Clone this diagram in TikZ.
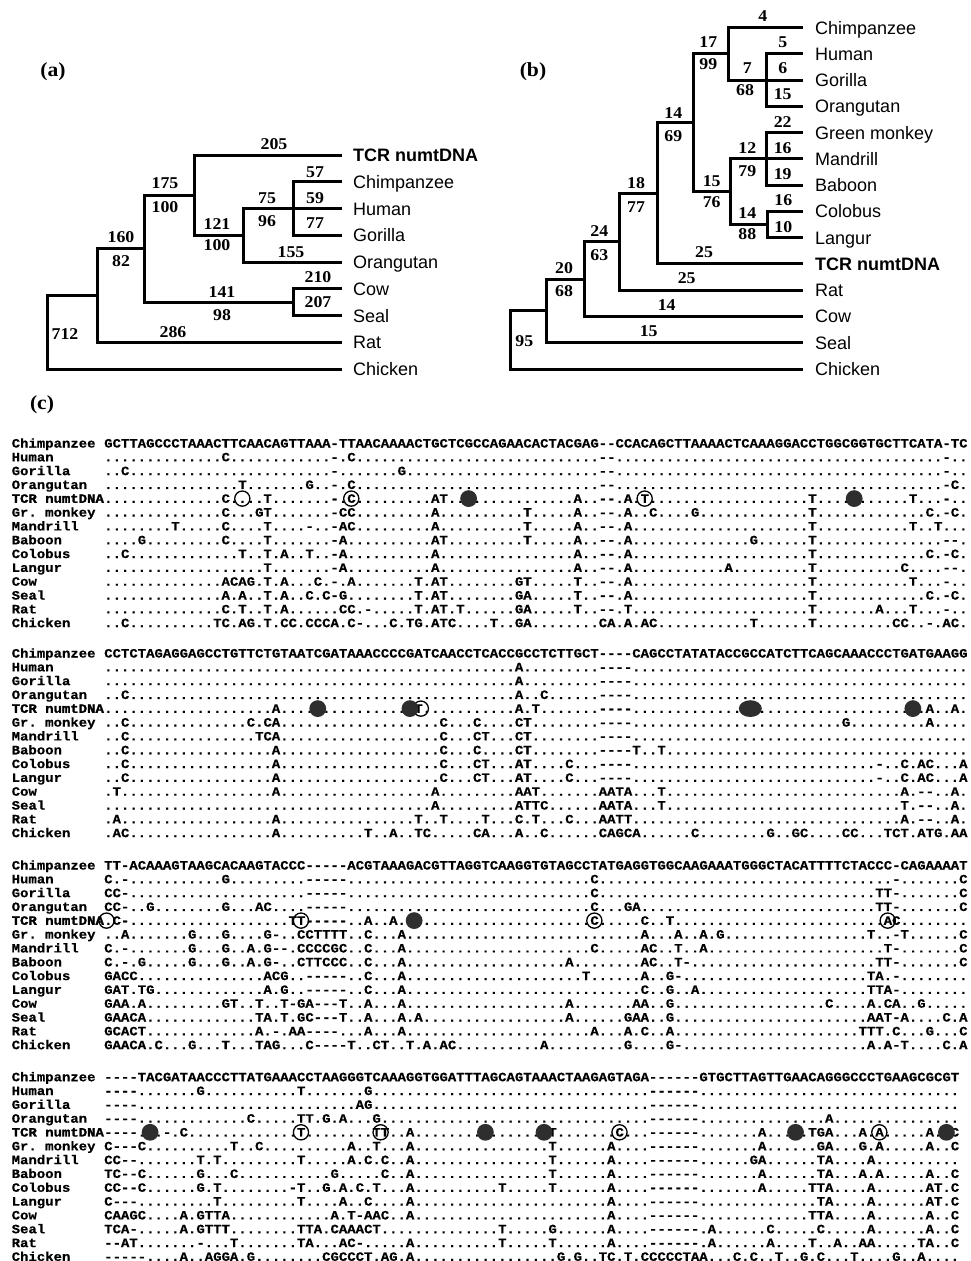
\documentclass[tikz,border=0pt]{standalone}
\usepackage{fontspec}
\setsansfont{Liberation Sans}
\setmonofont{Liberation Mono}[FakeStretch=1.1,FakeBold=0.6]
\newfontfamily\tcrfont{Liberation Mono}[FakeStretch=1.1,FakeBold=1.6]
\newfontfamily\numfont{Liberation Serif}[FakeStretch=1.08]

% n dots in a row
\newcommand\dd[1]{\ifnum#1>0 .\expandafter\dd\expandafter{\the\numexpr#1-1\relax}\fi}
% one row of the alignment: row, name, residues
\newcommand\seqline[3]{%
  \node[seqlab] (lab\blk-#1) at (11.5,{\blky+13.82*#1}) {#2};
  \node[seqrow] (seq\blk-#1) at (104,{\blky+13.82*#1}) {#3};}
% marks on the TCR row: column, y
\newcommand\ringat[2]{\draw[ring] ({108.19+8.382*#1},#2) circle[radius=7.6pt];}
\newcommand\blotat[2]{\fill[blot] ({108.19+8.382*#1},#2) circle[radius=8.4pt];}

\tikzset{
  branch/.style={line width=3pt},
  num/.style={font=\numfont\bfseries\fontsize{16.5}{17}\selectfont, inner sep=0pt},
  taxon/.style={anchor=west, inner xsep=11pt, inner ysep=0pt, text height=13pt, text depth=0pt,
    font=\sffamily\fontsize{18}{20}\selectfont},
  panel/.style={font=\numfont\bfseries\fontsize{20}{21}\selectfont, inner sep=0pt},
  seqlab/.style={anchor=base west, inner sep=0pt, font=\ttfamily\bfseries\fontsize{12.7}{13}\selectfont},
  seqrow/.style={seqlab},
  ring/.style={line width=1.3pt},
  blot/.style={fill=black!82},
}

\begin{document}
\begin{tikzpicture}[x=1pt,y=-1pt]
\useasboundingbox (0,0) rectangle (971,1261);

% panel labels
\node[panel] (pa) at (53,72) {(a)};
\node[panel] (pb) at (533,72) {(b)};
\node[panel] (pc) at (42,405) {(c)};

% tree (a)
\node[taxon] (aTCR) at (342,155) {\textbf{TCR numtDNA}};
\node[taxon] (aChimp) at (342,181.75) {Chimpanzee};
\node[taxon] (aHuman) at (342,208.5) {Human};
\node[taxon] (aGorilla) at (342,235.25) {Gorilla};
\node[taxon] (aOrang) at (342,262) {Orangutan};
\node[taxon] (aCow) at (342,288.75) {Cow};
\node[taxon] (aSeal) at (342,315.5) {Seal};
\node[taxon] (aRat) at (342,342.25) {Rat};
\node[taxon] (aChicken) at (342,369) {Chicken};
\coordinate (a0) at (47,332.2);
\coordinate (a1) at (97,295.4);
\coordinate (a2) at (144,248.6);
\coordinate (a3) at (194,195.1);
\coordinate (a4) at (243,235.25);
\coordinate (a5) at (293,208.5);
\coordinate (acs) at (293,302.1);
\draw[branch] (a0) |- (a1) (a0) |- (aChicken.west);
\draw[branch] (a1) |- (a2) (a1) |- (aRat.west);
\draw[branch] (a2) |- (a3) (a2) |- (acs);
\draw[branch] (a3) |- (aTCR.west) (a3) |- (a4);
\draw[branch] (a4) |- (a5) (a4) |- (aOrang.west);
\draw[branch] (a5) |- (aChimp.west) (a5) |- (aHuman.west) (a5) |- (aGorilla.west);
\draw[branch] (acs) |- (aCow.west) (acs) |- (aSeal.west);
\node[num] at (274,144) {205};
\node[num] at (165,183) {175};
\node[num] at (165,207) {100};
\node[num] at (315,172) {57};
\node[num] at (315,198) {59};
\node[num] at (315,223) {77};
\node[num] at (267,198) {75};
\node[num] at (267,221) {96};
\node[num] at (217,224) {121};
\node[num] at (217,245) {100};
\node[num] at (291,252) {155};
\node[num] at (121,237) {160};
\node[num] at (121,261) {82};
\node[num] at (318,277) {210};
\node[num] at (318,302) {207};
\node[num] at (222,292) {141};
\node[num] at (222,315) {98};
\node[num] at (173,332) {286};
\node[num] at (65,334) {712};

% tree (b)
\tikzset{taxon/.append style={inner xsep=12pt}}
\node[taxon] (bChimp) at (803,27.5) {Chimpanzee};
\node[taxon] (bHuman) at (803,53.77) {Human};
\node[taxon] (bGorilla) at (803,80.04) {Gorilla};
\node[taxon] (bOrang) at (803,106.31) {Orangutan};
\node[taxon] (bGreen) at (803,132.58) {Green monkey};
\node[taxon] (bMandrill) at (803,158.85) {Mandrill};
\node[taxon] (bBaboon) at (803,185.12) {Baboon};
\node[taxon] (bColobus) at (803,211.39) {Colobus};
\node[taxon] (bLangur) at (803,237.66) {Langur};
\node[taxon] (bTCR) at (803,263.93) {\textbf{TCR numtDNA}};
\node[taxon] (bRat) at (803,290.2) {Rat};
\node[taxon] (bCow) at (803,316.47) {Cow};
\node[taxon] (bSeal) at (803,342.74) {Seal};
\node[taxon] (bChicken) at (803,369.01) {Chicken};
\coordinate (b0) at (510.7,340);
\coordinate (b1) at (546,310.9);
\coordinate (b2) at (584.3,279.1);
\coordinate (b3) at (619.3,241.8);
\coordinate (b4) at (657.7,193.3);
\coordinate (b5) at (693.3,122.7);
\coordinate (b6) at (728.3,53.77);
\coordinate (b7) at (766.7,80.04);
\coordinate (b8) at (730,191.7);
\coordinate (b9) at (766.7,158.85);
\coordinate (b10) at (767.3,224.5);
\draw[branch] (b0) |- (b1) (b0) |- (bChicken.west);
\draw[branch] (b1) |- (b2) (b1) |- (bSeal.west);
\draw[branch] (b2) |- (b3) (b2) |- (bCow.west);
\draw[branch] (b3) |- (b4) (b3) |- (bRat.west);
\draw[branch] (b4) |- (b5) (b4) |- (bTCR.west);
\draw[branch] (b5) |- (b6) (b5) |- (b8);
\draw[branch] (b6) |- (bChimp.west) (b6) |- (b7);
\draw[branch] (b7) |- (bHuman.west) (b7) |- (bGorilla.west) (b7) |- (bOrang.west);
\draw[branch] (b8) |- (b9) (b8) |- (b10);
\draw[branch] (b9) |- (bGreen.west) (b9) |- (bMandrill.west) (b9) |- (bBaboon.west);
\draw[branch] (b10) |- (bColobus.west) (b10) |- (bLangur.west);
\node[num] at (762.7,16) {4};
\node[num] at (708.3,41.7) {17};
\node[num] at (708.3,64.3) {99};
\node[num] at (782.7,41.7) {5};
\node[num] at (782.7,68.3) {6};
\node[num] at (782.7,94.3) {15};
\node[num] at (747.3,68.3) {7};
\node[num] at (745,90) {68};
\node[num] at (673.3,113.3) {14};
\node[num] at (673.3,136) {69};
\node[num] at (782.7,121.7) {22};
\node[num] at (782.7,148.3) {16};
\node[num] at (782.7,174) {19};
\node[num] at (747.3,148.3) {12};
\node[num] at (747.3,170.7) {79};
\node[num] at (711.7,181) {15};
\node[num] at (711.7,202.3) {76};
\node[num] at (783.3,200) {16};
\node[num] at (783.3,226.7) {10};
\node[num] at (747.3,212.7) {14};
\node[num] at (747.3,234.3) {88};
\node[num] at (636,182.7) {18};
\node[num] at (636,206.7) {77};
\node[num] at (704,252.3) {25};
\node[num] at (599.3,230.7) {24};
\node[num] at (599.3,255) {63};
\node[num] at (686.7,278.3) {25};
\node[num] at (564,268.3) {20};
\node[num] at (564,291) {68};
\node[num] at (666.7,305) {14};
\node[num] at (648.7,331) {15};
\node[num] at (524.3,340.7) {95};

% alignment (c), block 1
\def\blk{1}\def\blky{447.5}
\seqline{0}{Chimpanzee}{GCTTAGCCCTAAACTTCAACAGTTAAA-TTAACAAAACTGCTCGCCAGAACACTACGAG--CCACAGCTTAAAACTCAAAGGACCTGGCGGTGCTTCATA-TC}
\seqline{1}{Human}{\dd{14}C\dd{12}-.C\dd{29}--\dd{39}-..}
\seqline{2}{Gorilla}{..C\dd{24}-\dd{7}G\dd{23}--\dd{39}-..}
\seqline{3}{Orangutan}{\dd{16}T\dd{7}G..-.C\dd{29}--\dd{39}-C.}
\seqline{4}{{\tcrfont TCR numtDNA}}{\dd{14}C\dd{4}T\dd{7}-.C\dd{9}AT\dd{15}A..--.A.T\dd{19}T\dd{11}T\dd{3}-..}
\seqline{5}{Gr. monkey}{\dd{14}C...GT\dd{7}-CC\dd{9}A\dd{10}T\dd{5}A..--.A..C\dd{4}G\dd{13}T\dd{13}C.-C.}
\seqline{6}{Mandrill}{\dd{8}T.....C....T....-..-AC\dd{9}A\dd{10}T\dd{5}A..--.A\dd{21}T\dd{11}T..T...}
\seqline{7}{Baboon}{....G\dd{9}C....T\dd{7}-A\dd{10}AT\dd{9}T\dd{5}A..--.A\dd{14}G\dd{6}T\dd{15}--.}
\seqline{8}{Colobus}{..C\dd{13}T..T.A..T..-A\dd{10}A\dd{16}A..--.A\dd{21}T\dd{13}C.-C.}
\seqline{9}{Langur}{\dd{19}T\dd{7}-A\dd{10}A\dd{16}A..--.A\dd{11}A\dd{9}T\dd{10}C....--.}
\seqline{10}{Cow}{\dd{14}ACAG.T.A...C.-.A\dd{7}T.AT\dd{8}GT\dd{5}T..--.A\dd{21}T\dd{11}T...-..}
\seqline{11}{Seal}{\dd{14}A.A..T.A..C.C-G\dd{8}T.AT\dd{8}GA\dd{5}T..--.A\dd{21}T\dd{13}C.-C.}
\seqline{12}{Rat}{\dd{14}C.T..T.A\dd{6}CC.-\dd{5}T.AT.T\dd{6}GA\dd{5}T..--.T\dd{21}T\dd{7}A...T...-..}
\seqline{13}{Chicken}{..C\dd{10}TC.AG.T.CC.CCCA.C-...C.TG.ATC\dd{4}T..GA\dd{8}CA.A.AC\dd{11}T\dd{6}T\dd{9}CC..-.AC.}
\foreach \c in {16,29,64} {\ringat{\c}{498.6}}
\foreach \c in {43,89} {\blotat{\c}{498.6}}

% block 2
\def\blk{2}\def\blky{657.5}
\seqline{0}{Chimpanzee}{CCTCTAGAGGAGCCTGTTCTGTAATCGATAAACCCCGATCAACCTCACCGCCTCTTGCT----CAGCCTATATACCGCCATCTTCAGCAAACCCTGATGAAGG}
\seqline{1}{Human}{\dd{49}A\dd{9}----\dd{40}}
\seqline{2}{Gorilla}{\dd{49}A\dd{9}----\dd{40}}
\seqline{3}{Orangutan}{..C\dd{46}A..C\dd{6}----\dd{40}}
\seqline{4}{{\tcrfont TCR numtDNA}}{\dd{20}A\dd{16}T\dd{11}A.T\dd{7}----\dd{35}A..A.}
\seqline{5}{Gr. monkey}{..C\dd{14}C.CA\dd{19}C...C....CT\dd{8}----\dd{25}G\dd{9}A....}
\seqline{6}{Mandrill}{..C\dd{15}TCA\dd{19}C...CT...CT\dd{8}----\dd{40}}
\seqline{7}{Baboon}{..C\dd{17}A\dd{19}C...C....CT\dd{8}----T..T\dd{36}}
\seqline{8}{Colobus}{..C\dd{17}A\dd{19}C...CT...AT....C...----\dd{29}-..C.AC...A}
\seqline{9}{Langur}{..C\dd{17}A\dd{19}C...CT...AT....C...----\dd{29}-..C.AC...A}
\seqline{10}{Cow}{.T\dd{18}A\dd{18}A\dd{9}AAT\dd{7}AATA...T\dd{28}A.--..A.}
\seqline{11}{Seal}{\dd{39}A\dd{9}ATTC\dd{6}AATA...T\dd{28}T.--..A.}
\seqline{12}{Rat}{.A\dd{18}A\dd{16}T..T....T...C.T...C...AATT\dd{32}A.--..A.}
\seqline{13}{Chicken}{.AC\dd{17}A\dd{10}T..A..TC.....CA...A..C......CAGCA\dd{6}C\dd{8}G..GC....CC...TCT.ATG.AA}
\ringat{37.3}{708.6}
\foreach \c in {25,36,96} {\blotat{\c}{708.6}}
\fill[blot] (750.3,708.6) ellipse[x radius=11.5pt, y radius=8.4pt];

% block 3
\def\blk{3}\def\blky{869.5}
\seqline{0}{Chimpanzee}{TT-ACAAAGTAAGCACAAGTACCC-----ACGTAAAGACGTTAGGTCAAGGTGTAGCCTATGAGGTGGCAAGAAATGGGCTACATTTTCTACCC-CAGAAAAT}
\seqline{1}{Human}{C.-\dd{11}G\dd{9}-----\dd{29}C\dd{35}-\dd{7}C}
\seqline{2}{Gorilla}{CC-\dd{21}-----\dd{29}C\dd{33}TT-\dd{7}C}
\seqline{3}{Orangutan}{CC-..G\dd{8}G...AC....-----\dd{29}C...GA\dd{28}TT-\dd{7}C}
\seqline{4}{{\tcrfont TCR numtDNA}}{.C-\dd{19}TT-----..A..A\dd{23}C.....C..T\dd{25}AC\dd{8}}
\seqline{5}{Gr. monkey}{..A\dd{7}G...G....G-..CCTTTT..C...A\dd{28}A...A..A.G\dd{17}T..-T\dd{6}C}
\seqline{6}{Mandrill}{C.-\dd{7}G...G..A.G--.CCCCGC..C...A\dd{22}C.....AC..T..A\dd{21}T-\dd{7}C}
\seqline{7}{Baboon}{C.-.G.....G...G..A.G-..CTTCCC..C...A\dd{19}A\dd{8}AC..T-\dd{22}TT-\dd{7}C}
\seqline{8}{Colobus}{GACC\dd{15}ACG..-----..C...A\dd{21}T......A..G-\dd{22}TA.-\dd{8}}
\seqline{9}{Langur}{GAT.TG\dd{13}A.G..-----..C...A\dd{28}C..G..A\dd{20}TTA-\dd{8}}
\seqline{10}{Cow}{GAA.A\dd{9}GT..T..T-GA---T..A...A\dd{19}A\dd{7}AA..G\dd{18}C....A.CA..G\dd{5}}
\seqline{11}{Seal}{GAACA\dd{13}TA.T.GC---T..A...A.A\dd{17}A\dd{6}GAA..G\dd{23}AAT-A....C.A}
\seqline{12}{Rat}{GCACT\dd{13}A.-.AA----...A...A\dd{22}A...A.C..A\dd{22}TTT.C...G...C}
\seqline{13}{Chicken}{GAACA.C...G...T...TAG...C----T..CT..T.A.AC\dd{10}A\dd{9}G....G-\dd{22}A.A-T....C.A}
\foreach \c in {-0.2,23,58,93} {\ringat{\c}{920.6}}
\blotat{36.5}{920.6}

% block 4
\def\blk{4}\def\blky{1081.2}
\seqline{0}{Chimpanzee}{----TACGATAACCCTTATGAAACCTAAGGGTCAAAGGTGGATTTAGCAGTAAACTAAGAGTAGA------GTGCTTAGTTGAACAGGGCCCTGAAGCGCGT}
\seqline{1}{Human}{----\dd{7}G\dd{11}T\dd{7}G\dd{33}------\dd{31}}
\seqline{2}{Gorilla}{----\dd{26}AG\dd{33}------\dd{31}}
\seqline{3}{Orangutan}{----\dd{13}C.....TT.G.A...G\dd{32}------\dd{15}A\dd{15}}
\seqline{4}{{\tcrfont TCR numtDNA}}{----...-.C\dd{13}T\dd{8}TT..A\dd{16}T\dd{7}C...------\dd{7}A\dd{5}TGA...A.A\dd{5}A..C}
\seqline{5}{Gr. monkey}{C---C\dd{10}T..C\dd{10}A..T...A\dd{16}T\dd{6}A....------\dd{7}A\dd{6}GA...G.A\dd{5}A..C}
\seqline{6}{Mandrill}{CC--\dd{7}T.T\dd{9}T.....A.C.C..A\dd{16}T\dd{6}A....------\dd{6}GA\dd{6}TA....A\dd{10}}
\seqline{7}{Baboon}{TC--C\dd{6}G...C\dd{11}G.....C..A\dd{16}T\dd{6}A....------\dd{7}A\dd{6}TA...A.A\dd{5}A..C}
\seqline{8}{Colobus}{CC--C\dd{6}G.T\dd{8}-T..G.A.C.T...A\dd{10}T\dd{5}T\dd{6}A....------\dd{7}A\dd{5}TTA....A\dd{6}AT.C}
\seqline{9}{Langur}{C---\dd{9}T\dd{9}T....A..C....A\dd{23}A....------\dd{14}TA....A\dd{6}AT.C}
\seqline{10}{Cow}{CAAGC....A.GTTA\dd{12}A.T-AAC..A\dd{23}A....------\dd{13}TTA....A\dd{6}A..C}
\seqline{11}{Seal}{TCA-.....A.GTTT\dd{8}TTA.CAAACT\dd{14}T.....G\dd{6}A....------.A\dd{6}C\dd{5}C\dd{5}A\dd{6}A..C}
\seqline{12}{Rat}{--AT\dd{7}-...T\dd{7}TA...AC-.....A\dd{10}T.....T\dd{6}A....------.A\dd{6}A....T..A..AA.....TA..C}
\seqline{13}{Chicken}{-----....A..AGGA.G\dd{8}CGCCCT.AG.A\dd{17}G.G..TC.T.CCCCCTAA...C.C..T..G.C...T....G..A....}
\foreach \c in {23,32.5,61,92} {\ringat{\c}{1132.3}}
\foreach \c in {5,45,52,82,100} {\blotat{\c}{1132.3}}

\end{tikzpicture}
\end{document}
